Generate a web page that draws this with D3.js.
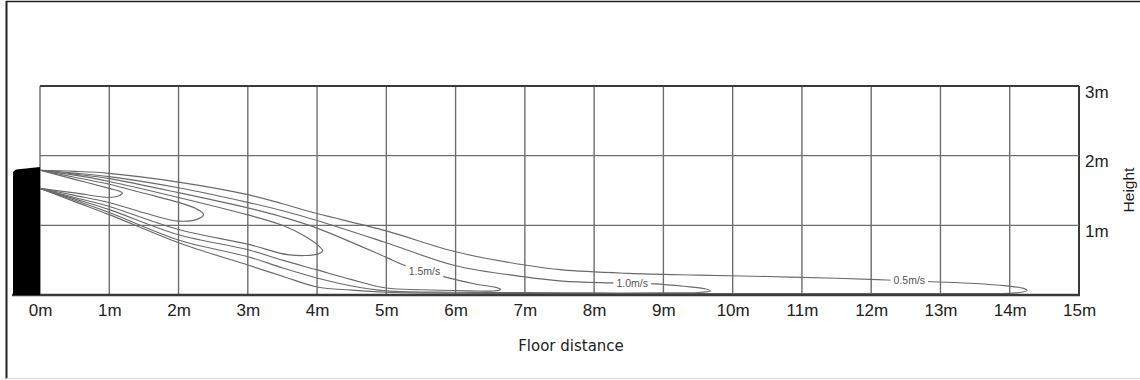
<!DOCTYPE html>
<html>
<head>
<meta charset="utf-8">
<script src="https://cdn.jsdelivr.net/npm/d3@7"></script>
<style>
  html, body { margin: 0; padding: 0; background: #fff; }
  svg { display: block; }
</style>
</head>
<body>
<svg id="chart" width="1140" height="380"></svg>
<script>
// Floor distance ticks (m) and their labels
const distanceTicks  = [0, 1, 2, 3, 4, 5, 6, 7, 8, 9, 10, 11, 12, 13, 14, 15];
const distanceLabels = ["0m","1m","2m","3m","4m","5m","6m","7m","8m","9m","10m","11m","12m","13m","14m","15m"];
// Height ticks (m) and their labels
const heightTicks  = [1, 2, 3];
const heightLabels = ["1m", "2m", "3m"];

// Air-velocity contours, [distance m, height m]: upper branch out to the tip, lower branch back to the outlet
const contourA = [[0,1.79],[0.5,1.66],[1.0,1.53],[1.15,1.49],[1.19,1.465],[1.13,1.42],[1.0,1.40],[0.5,1.465],[0,1.53]];
const contourB = [[0,1.79],[0.5,1.69],[1,1.59],[1.5,1.46],[2,1.33],[2.25,1.24],[2.36,1.16],[2.3,1.10],[2,1.06],[1.5,1.18],[1,1.327],[0.5,1.43],[0,1.53]];
const contourC = [[0,1.79],[0.5,1.72],[1,1.63],[2,1.40],[3,1.15],[3.5,1.0],[3.85,0.83],[4.04,0.69],[4.08,0.635],[4.02,0.59],[3.6,0.575],[3,0.73],[2,0.94],[1,1.27],[0.5,1.40],[0,1.53]];
const contour15 = [[0,1.79],[0.5,1.735],[1,1.67],[2,1.47],[3,1.25],[3.5,1.12],[4,0.96],[5,0.54],[5.25,0.43],[5.84,0.26],[6.3,0.155],[6.58,0.11],[6.65,0.08],[6.55,0.058],[6.2,0.06],[5.5,0.075],[5,0.10],[4.5,0.22],[4,0.36],[3.5,0.50],[3,0.65],[2,0.865],[1,1.226],[0.5,1.38],[0,1.53]];
const contour10 = [[0,1.79],[0.5,1.75],[1,1.70],[2,1.54],[3,1.33],[3.5,1.21],[4,1.07],[5,0.75],[6,0.42],[7,0.26],[7.54,0.20],[8.23,0.173],[8.87,0.16],[9.3,0.125],[9.6,0.09],[9.68,0.06],[9.5,0.035],[9,0.03],[8,0.03],[7,0.035],[6,0.04],[5,0.06],[4.5,0.13],[4,0.245],[3.5,0.39],[3,0.55],[2,0.79],[1,1.183],[0.5,1.36],[0,1.53]];
const contour05 = [[0,1.79],[0.5,1.775],[1,1.745],[2,1.62],[3,1.44],[3.5,1.31],[4,1.17],[5,0.92],[6,0.62],[7,0.43],[7.54,0.36],[8.5,0.31],[9.5,0.285],[10.5,0.265],[11.5,0.24],[12.22,0.215],[12.87,0.19],[13.5,0.165],[13.95,0.13],[14.2,0.095],[14.25,0.065],[14.1,0.03],[13.5,0.02],[12,0.02],[10,0.02],[8,0.02],[6,0.025],[5,0.04],[4.5,0.07],[4,0.115],[3.5,0.27],[3,0.43],[2,0.75],[1,1.154],[0.5,1.34],[0,1.53]];

// Velocity labels sitting on their contour lines
const speedText     = ["1.5m/s", "1.0m/s", "0.5m/s"];
const speedAtDist   = [5.55, 8.55, 12.55];
const speedAtHeight = [0.335, 0.168, 0.205];

// Wall unit outline (m)
const unitOutline = [[-0.39,1.766],[-0.346,1.80],[0,1.837],[0,0],[-0.39,0]];

const svg = d3.select("#chart");
const x = d3.scaleLinear().domain([0, 15]).range([40, 1079]);
const y = d3.scaleLinear().domain([0, 3]).range([295, 86]);

// Outer frame
svg.append("line").attr("x1", 6.5).attr("x2", 6.5).attr("y1", 1).attr("y2", 379)
  .attr("stroke", "#222").attr("stroke-width", 2);
svg.append("line").attr("x1", 6).attr("x2", 1140).attr("y1", 1.5).attr("y2", 1.5)
  .attr("stroke", "#222").attr("stroke-width", 1.5);
svg.append("line").attr("x1", 6).attr("x2", 1140).attr("y1", 378.5).attr("y2", 378.5)
  .attr("stroke", "#d4d4d4").attr("stroke-width", 1);

// Grid
const grid = svg.append("g");
grid.selectAll("line.v").data(distanceTicks).join("line")
  .attr("class", "v")
  .attr("x1", d => x(d)).attr("x2", d => x(d))
  .attr("y1", y(3)).attr("y2", y(0))
  .attr("stroke", d => d === 15 ? "#3a3a3a" : "#6e6e6e")
  .attr("stroke-width", d => d === 15 ? 2 : 1.4);
grid.selectAll("line.h").data(heightTicks).join("line")
  .attr("class", "h")
  .attr("x1", x(0)).attr("x2", x(15))
  .attr("y1", d => y(d)).attr("y2", d => y(d))
  .attr("stroke", d => d === 3 ? "#3a3a3a" : "#6e6e6e")
  .attr("stroke-width", d => d === 3 ? 1.8 : 1.4);

// Contours
const line = d3.line().x(d => x(d[0])).y(d => y(d[1])).curve(d3.curveCatmullRom.alpha(0.5));
const contours = [contourA, contourB, contourC, contour15, contour10, contour05];
svg.append("g").selectAll("path").data(contours).join("path")
  .attr("d", line)
  .attr("fill", "none")
  .attr("stroke", "#6a6a6a")
  .attr("stroke-width", 1.15);

// Floor line
svg.append("line").attr("x1", x(0) - 28).attr("x2", x(15) + 1).attr("y1", y(0)).attr("y2", y(0))
  .attr("stroke", "#3a3a3a").attr("stroke-width", 2.6);

// Wall unit
svg.append("path")
  .attr("d", d3.line().x(d => x(d[0])).y(d => y(d[1]))(unitOutline) + "Z")
  .attr("fill", "#000");

// Velocity labels with a white gap cut into the line
const lbl = svg.append("g").selectAll("g").data(speedText).join("g")
  .attr("transform", (d, i) => `translate(${x(speedAtDist[i])},${y(speedAtHeight[i])})`);
lbl.append("rect");
lbl.append("text")
  .text(d => d)
  .attr("text-anchor", "middle")
  .attr("dy", "0.35em")
  .attr("font-family", "'Liberation Sans', Arial, sans-serif")
  .attr("font-size", 10.5)
  .attr("fill", "#555");
lbl.each(function() {
  const g = d3.select(this);
  const b = g.select("text").node().getBBox();
  g.select("rect")
    .attr("x", b.x - 3).attr("y", b.y - 1)
    .attr("width", b.width + 6).attr("height", b.height + 2)
    .attr("fill", "#fff");
});

// Distance axis labels
const xAxis = d3.axisBottom(x).tickValues(distanceTicks)
  .tickFormat((d, i) => distanceLabels[i]).tickSize(0).tickPadding(9);
const xg = svg.append("g").attr("transform", `translate(0,${y(0)})`).call(xAxis);
xg.select(".domain").remove();
xg.selectAll("text")
  .attr("font-family", "'Liberation Sans', Arial, sans-serif")
  .attr("font-size", 17).attr("fill", "#222");

// Height axis labels (right side, top of text on the grid line)
const yAxis = d3.axisRight(y).tickValues(heightTicks)
  .tickFormat((d, i) => heightLabels[i]).tickSize(0).tickPadding(6);
const yg = svg.append("g").attr("transform", `translate(${x(15)},0)`).call(yAxis);
yg.select(".domain").remove();
yg.selectAll("text")
  .attr("dy", "0.66em").attr("y", 0)
  .attr("font-family", "'Liberation Sans', Arial, sans-serif")
  .attr("font-size", 17).attr("fill", "#222");

// Axis titles
svg.append("text").text("Floor distance")
  .attr("x", 571).attr("y", 351)
  .attr("text-anchor", "middle")
  .attr("font-family", "'DejaVu Sans', Verdana, sans-serif")
  .attr("font-size", 15).attr("fill", "#222");
svg.append("text").text("Height")
  .attr("transform", "translate(1133.5,190) rotate(-90)")
  .attr("text-anchor", "middle")
  .attr("font-family", "'Liberation Sans', Arial, sans-serif")
  .attr("font-size", 15.5).attr("fill", "#222");
</script>
</body>
</html>
